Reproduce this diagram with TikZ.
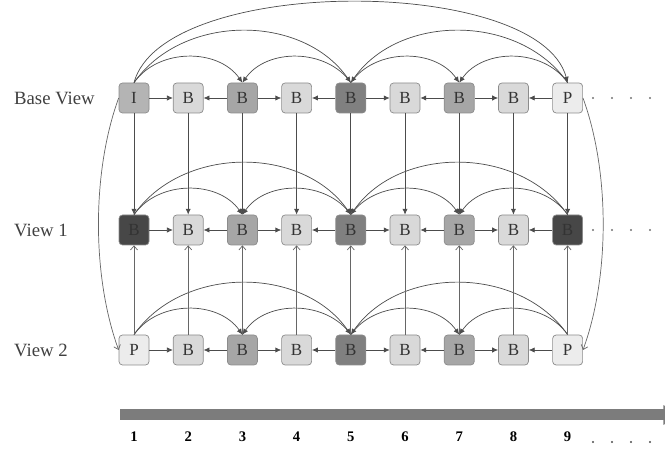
\documentclass[tikz,border=0pt]{standalone}
\usepackage{fontspec}
\setmainfont{Liberation Serif}
\usetikzlibrary{arrows.meta,positioning,calc}

\begin{document}
\begin{tikzpicture}[x=0.03cm,y=0.03cm,>={Latex[length=5pt,width=4.5pt]},
    every node/.style={font=\fontsize{14.5}{16}\selectfont},
    frame/.style={draw=black!45, fill=#1, rounded corners=3pt, minimum size=0.9cm,
      inner sep=0pt, line width=0.6pt, text=black!80},
    link/.style={->, black!70, line width=0.6pt},
    uplink/.style={-{Straight Barb[length=3.5pt,width=6pt]}, black!60, line width=0.6pt},
    rowlabel/.style={anchor=west, text=black!75, font=\fontsize{16}{18}\selectfont}]
  \definecolor{fI}{HTML}{B4B4B4}\definecolor{fP}{HTML}{ECECEC}\definecolor{fB}{HTML}{D9D9D9}
  \definecolor{fBm}{HTML}{A6A6A6}\definecolor{fBd}{HTML}{808080}\definecolor{fBk}{HTML}{474747}
  \definecolor{barc}{HTML}{7C7C7C}
  \useasboundingbox (0,0) rectangle (665,449);
  % row labels
  \node[rowlabel] (lblbase) at (10,351) {Base View};
  \node[rowlabel] (lblone) at (10,219) {View 1};
  \node[rowlabel] (lbltwo) at (10,99) {View 2};
  % base view
  \node[frame=fI] (base1) at (134,351) {I};
  \node[frame=fB, right=0.705cm of base1] (base2) {B};
  \node[frame=fBm, right=0.705cm of base2] (base3) {B};
  \node[frame=fB, right=0.705cm of base3] (base4) {B};
  \node[frame=fBd, right=0.705cm of base4] (base5) {B};
  \node[frame=fB, right=0.705cm of base5] (base6) {B};
  \node[frame=fBm, right=0.705cm of base6] (base7) {B};
  \node[frame=fB, right=0.705cm of base7] (base8) {B};
  \node[frame=fP, right=0.705cm of base8] (base9) {P};
  % view 1
  \node[frame=fBk] (one1) at (134,219) {B};
  \node[frame=fB, right=0.705cm of one1] (one2) {B};
  \node[frame=fBm, right=0.705cm of one2] (one3) {B};
  \node[frame=fB, right=0.705cm of one3] (one4) {B};
  \node[frame=fBd, right=0.705cm of one4] (one5) {B};
  \node[frame=fB, right=0.705cm of one5] (one6) {B};
  \node[frame=fBm, right=0.705cm of one6] (one7) {B};
  \node[frame=fB, right=0.705cm of one7] (one8) {B};
  \node[frame=fBk, right=0.705cm of one8] (one9) {B};
  % view 2
  \node[frame=fP] (two1) at (134,99) {P};
  \node[frame=fB, right=0.705cm of two1] (two2) {B};
  \node[frame=fBm, right=0.705cm of two2] (two3) {B};
  \node[frame=fB, right=0.705cm of two3] (two4) {B};
  \node[frame=fBd, right=0.705cm of two4] (two5) {B};
  \node[frame=fB, right=0.705cm of two5] (two6) {B};
  \node[frame=fBm, right=0.705cm of two6] (two7) {B};
  \node[frame=fB, right=0.705cm of two7] (two8) {B};
  \node[frame=fP, right=0.705cm of two8] (two9) {P};
  % neighbours and hierarchy arcs
  \foreach \r in {base,one,two} {
    \foreach \s/\t in {1/2,3/2,3/4,5/4,5/6,7/6,7/8,9/8}
      \draw[link] (\r\s) -- (\r\t);
    \draw[link] (\r1.north) to[out=55,in=125] (\r3.north);
    \draw[link] (\r5.north) to[out=125,in=55] (\r3.north);
    \draw[link] (\r5.north) to[out=55,in=125] (\r7.north);
    \draw[link] (\r9.north) to[out=125,in=55] (\r7.north);
    \draw[link] (\r1.north) to[out=55,in=125] (\r5.north);
    \draw[link] (\r9.north) to[out=125,in=55] (\r5.north);
  }
  \draw[link] (base1.north) to[out=75,in=105,looseness=0.66] (base9.north);
  % inter-view
  \foreach \i in {1,...,9} {
    \draw[link] (base\i) -- (one\i);
    \draw[uplink] (two\i) -- (one\i);
  }
  \draw[uplink] (base1.west) to[out=250,in=110,looseness=0.8] (two1.west);
  \draw[uplink] (base9.east) to[out=-70,in=70,looseness=0.8] (two9.east);
  % dots
  \foreach \x in {593,612,631,650} {
    \fill[black!55] (\x,351) circle (1.1);
    \fill[black!55] (\x,219) circle (1.1);
    \fill[black!70] (\x,7) circle (1.1);
  }
  % time axis
  \coordinate (barL) at (120,34);
  \coordinate (barR) at (680,34);
  \draw[barc, line width=0.33cm, -{Triangle[length=0.5cm,width=0.56cm]}] (barL) -- (barR);
  \coordinate (axis) at (0,12);
  \foreach \i in {1,...,9}
    \node[font=\fontsize{12.5}{14}\selectfont\bfseries] (num\i) at (base\i |- axis) {\i};
\end{tikzpicture}
\end{document}
